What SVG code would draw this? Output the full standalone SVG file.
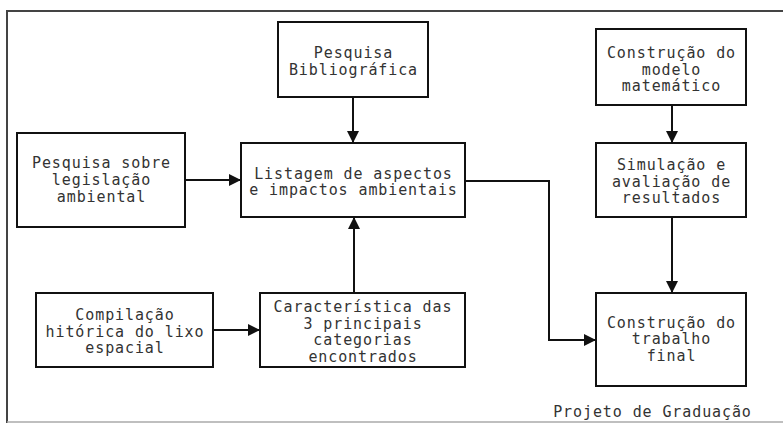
<svg xmlns="http://www.w3.org/2000/svg" width="783" height="423" viewBox="0 0 783 423">
<defs>
<style>
.box{fill:#fff;stroke:#111;stroke-width:2}
.t{font-family:"DejaVu Sans Mono","Liberation Mono",monospace;font-size:15px;letter-spacing:0.9px;fill:#333;text-anchor:middle}
.c{fill:none;stroke:#111;stroke-width:2}
</style>
<marker id="ah" markerWidth="12" markerHeight="12" refX="11" refY="6" orient="auto" markerUnits="userSpaceOnUse">
<path d="M0,0 L12,6 L0,12 Z" fill="#111"/>
</marker>
</defs>
<rect width="783" height="423" fill="#fff"/>
<path d="M7,423 L7,11 L783,11" fill="none" stroke="#444" stroke-width="2"/>
<line x1="7" y1="422" x2="783" y2="422" stroke="#aaa" stroke-width="1.5"/>
<g id="n1"><rect class="box" x="278" y="22" width="150" height="75"/>
<text class="t" x="353.5" y="58">Pesquisa</text><text class="t" x="353.5" y="75">Bibliográfica</text></g>
<g id="n2"><rect class="box" x="17" y="133" width="168" height="94"/>
<text class="t" x="101.5" y="168">Pesquisa sobre</text><text class="t" x="101.5" y="185">legislação</text><text class="t" x="101.5" y="202">ambiental</text></g>
<g id="n3"><rect class="box" x="241" y="143" width="224" height="74"/>
<text class="t" x="353.5" y="179">Listagem de aspectos</text><text class="t" x="353.5" y="195">e impactos ambientais</text></g>
<g id="n4"><rect class="box" x="596" y="29" width="150" height="76"/>
<text class="t" x="671.5" y="58">Construção do</text><text class="t" x="671.5" y="75">modelo</text><text class="t" x="671.5" y="91">matemático</text></g>
<g id="n5"><rect class="box" x="596" y="143" width="150" height="74"/>
<text class="t" x="671.5" y="170">Simulação e</text><text class="t" x="671.5" y="187">avaliação de</text><text class="t" x="671.5" y="203">resultados</text></g>
<g id="n6"><rect class="box" x="36" y="293" width="177" height="74"/>
<text class="t" x="125" y="320">Compilação</text><text class="t" x="125" y="337">hitórica do lixo</text><text class="t" x="125" y="353">espacial</text></g>
<g id="n7"><rect class="box" x="260" y="293" width="205" height="74"/>
<text class="t" x="363" y="312">Característica das</text><text class="t" x="363" y="329">3 principais</text><text class="t" x="363" y="345">categorias</text><text class="t" x="363" y="362">encontrados</text></g>
<g id="n8"><rect class="box" x="596" y="293" width="150" height="93"/>
<text class="t" x="671.5" y="328">Construção do</text><text class="t" x="671.5" y="344">trabalho</text><text class="t" x="671.5" y="361">final</text></g>
<text class="t" x="652.5" y="417">Projeto de Graduação</text>
<g id="connectors">
<line class="c" x1="353" y1="97" x2="353" y2="142" marker-end="url(#ah)"/>
<line class="c" x1="185" y1="180" x2="240" y2="180" marker-end="url(#ah)"/>
<line class="c" x1="354" y1="293" x2="354" y2="218" marker-end="url(#ah)"/>
<line class="c" x1="213" y1="330" x2="259" y2="330" marker-end="url(#ah)"/>
<polyline class="c" points="465,181 549,181 549,340 595,340" marker-end="url(#ah)"/>
<line class="c" x1="672" y1="105" x2="672" y2="142" marker-end="url(#ah)"/>
<line class="c" x1="672" y1="217" x2="672" y2="292" marker-end="url(#ah)"/>
</g>
</svg>
